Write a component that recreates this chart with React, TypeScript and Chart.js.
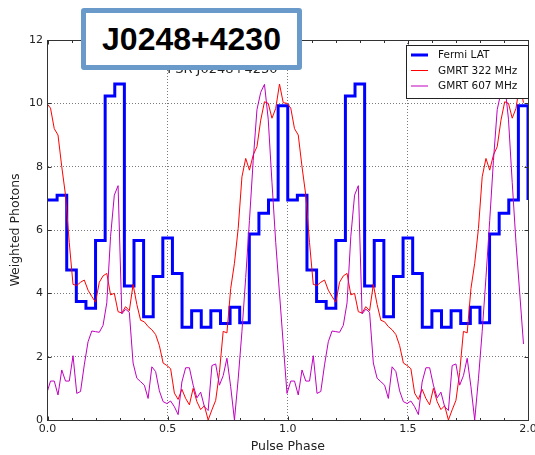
import React, { useEffect, useRef } from 'react';
import { Chart, registerables } from 'chart.js';

Chart.register(...registerables);
Chart.defaults.font.family = '"DejaVu Sans", sans-serif';
Chart.defaults.color = '#222';

// ---------------- data ----------------
const FERMI_BINS_PER_CYCLE = 25;
const RADIO_BINS_PER_CYCLE = 64;
const RADIO_BIN_SHIFT = 0.8; // radio profile phase alignment, in bins
const RADIO_PHASE_END = 1.99; // last radio bin plotted
const FERMI_CYCLES = [0, 1];
const RADIO_CYCLES = [-1, 0, 1];

const fermiLat = [
  6.95, 7.1, 4.74, 3.74, 3.53, 5.67, 10.23, 10.61, 4.23, 5.67, 3.26, 4.53, 5.75,
  4.63, 2.93, 3.45, 2.93, 3.45, 3.05, 3.56, 3.07, 5.87, 6.53, 6.95, 9.92,
];

const gmrt322 = [
  9.85, 9.2, 9.0, 8.0, 7.1, 5.6, 4.28, 4.25, 4.35, 4.42, 4.1, 3.9, 3.72, 4.35,
  4.55, 4.63, 3.95, 4.0, 3.42, 3.38, 3.58, 3.45, 4.28, 3.65, 3.15, 3.1, 2.95,
  2.85, 2.7, 2.35, 1.8, 1.72, 1.62, 0.85, 0.65, 0.97, 0.68, 0.48, 1.0, 0.58,
  0.33, 0.45, 0.0, 0.32, 0.62, 1.5, 2.8, 2.75, 4.15, 4.95, 6.05, 7.68, 8.26,
  7.89, 8.37, 8.63, 9.47, 10.05, 10.0, 9.53, 9.84, 10.61, 10.02, 10.0,
];

const gmrt607 = [
  1.23, 1.23, 0.79, 1.58, 1.23, 1.23, 2.03, 0.84, 0.9, 1.74, 2.47, 2.81, 2.79,
  2.77, 2.99, 3.7, 5.8, 7.1, 7.4, 3.35, 3.5, 3.4, 1.8, 1.32, 1.21, 1.1, 0.68,
  1.68, 1.53, 0.92, 0.58, 0.52, 0.6, 0.42, 0.17, 1.2, 1.65, 1.65, 1.1, 0.7,
  0.88, 0.42, 0.3, 1.72, 1.77, 1.1, 1.4, 1.95, 1.05, 0.0, 1.3, 2.8, 4.5, 6.3,
  8.2, 9.8, 10.35, 10.6, 9.5, 7.5, 5.6, 4.0, 2.4, 0.84,
];

const xTickValues = [0, 0.5, 1, 1.5, 2];
const xTickLabels = ['0.0', '0.5', '1.0', '1.5', '2.0'];
const xMinorStep = 0.1;
const yTickValues = [0, 2, 4, 6, 8, 10, 12];
const yTickLabels = ['0', '2', '4', '6', '8', '10', '12'];

const seriesNames = ['Fermi LAT', 'GMRT 322 MHz', 'GMRT 607 MHz'];
const seriesColors = ['#0000ff', '#ff0000', '#bf00bf'];
const seriesWidths = [3, 1, 1];

const xTitle = 'Pulse Phase';
const yTitle = 'Weighted Photons';
const plotTitle = 'PSR J0248+4230';
const badgeText = 'J0248+4230';

// ---------------- build points ----------------
function fermiPoints() {
  const pts: { x: number; y: number }[] = [];
  FERMI_CYCLES.forEach((c) => {
    fermiLat.forEach((v, k) => pts.push({ x: c + k / FERMI_BINS_PER_CYCLE, y: v }));
  });
  // close the last bin at the right edge
  pts.push({ x: FERMI_CYCLES.length, y: fermiLat[0] });
  return pts;
}

function radioPoints(arr: number[]) {
  const pts: { x: number; y: number }[] = [];
  RADIO_CYCLES.forEach((c) => {
    arr.forEach((v, i) => {
      const x = c + (i + RADIO_BIN_SHIFT) / RADIO_BINS_PER_CYCLE;
      if (x <= RADIO_PHASE_END) pts.push({ x, y: v });
    });
  });
  return pts;
}

// ---------------- overlay plugin (frame, ticks, title, legend) ----------------
const overlayPlugin = {
  id: 'overlay',
  afterDraw(chart: any) {
    const { ctx, chartArea: a, scales } = chart;
    const xs = scales.x;
    const ys = scales.y;
    const L = Math.floor(a.left) + 0.5;
    const R = Math.floor(a.right) + 0.5;
    const T = Math.floor(a.top) + 0.5;
    const B = Math.floor(a.bottom) + 0.5;
    ctx.save();

    // title (mostly hidden under the badge)
    ctx.fillStyle = '#222';
    ctx.font = '13px "DejaVu Sans", sans-serif';
    ctx.textAlign = 'center';
    ctx.textBaseline = 'alphabetic';
    ctx.fillText(plotTitle, a.left + a.width * 0.364, a.top + 33);

    // frame
    ctx.strokeStyle = '#333';
    ctx.lineWidth = 1;
    ctx.strokeRect(L, T, R - L, B - T);

    // inward ticks
    ctx.beginPath();
    const nMinor = Math.round((xs.max - xs.min) / xMinorStep);
    for (let k = 0; k <= nMinor; k++) {
      const v = xs.min + k * xMinorStep;
      const isMajor = xTickValues.some((t) => Math.abs(t - v) < 1e-9);
      const len = isMajor ? 4 : 2.5;
      const px = Math.round(xs.getPixelForValue(v)) + 0.5;
      ctx.moveTo(px, B);
      ctx.lineTo(px, B - len);
      ctx.moveTo(px, T);
      ctx.lineTo(px, T + len);
    }
    yTickValues.forEach((v) => {
      const py = Math.round(ys.getPixelForValue(v)) + 0.5;
      ctx.moveTo(L, py);
      ctx.lineTo(L + 4, py);
      ctx.moveTo(R, py);
      ctx.lineTo(R - 4, py);
    });
    ctx.stroke();

    // legend
    const lw = 122;
    const lh = 53;
    const lx = Math.floor(a.right) - lw;
    const ly = Math.floor(a.top) + 5;
    ctx.fillStyle = '#ffffff';
    ctx.fillRect(lx, ly, lw, lh);
    ctx.strokeStyle = '#222';
    ctx.lineWidth = 1;
    ctx.strokeRect(lx + 0.5, ly + 0.5, lw, lh);
    ctx.font = '10.5px "DejaVu Sans", sans-serif';
    ctx.textAlign = 'left';
    ctx.textBaseline = 'middle';
    seriesNames.forEach((name, r) => {
      const cy = ly + 10 + r * 15.5;
      ctx.beginPath();
      ctx.strokeStyle = seriesColors[r];
      ctx.lineWidth = seriesWidths[r];
      ctx.moveTo(lx + 5, cy);
      ctx.lineTo(lx + 22, cy);
      ctx.stroke();
      ctx.fillStyle = '#111';
      ctx.fillText(name, lx + 32, cy + 0.5);
    });
    ctx.restore();
  },
};

export default function App() {
  const canvasRef = useRef<HTMLCanvasElement | null>(null);

  useEffect(() => {
    const canvas = canvasRef.current;
    if (!canvas) return;
    const gridColorX = (c: any) =>
      c.tick && (c.tick.value === xTickValues[0] || c.tick.value === xTickValues[xTickValues.length - 1])
        ? 'rgba(0,0,0,0)'
        : '#7a7a7a';
    const gridColorY = (c: any) =>
      c.tick && (c.tick.value === yTickValues[0] || c.tick.value === yTickValues[yTickValues.length - 1])
        ? 'rgba(0,0,0,0)'
        : '#7a7a7a';

    const chart = new Chart(canvas, {
      type: 'line',
      data: {
        datasets: [
          {
            label: seriesNames[0],
            data: fermiPoints(),
            borderColor: seriesColors[0],
            borderWidth: seriesWidths[0],
            stepped: 'before',
            pointRadius: 0,
            fill: false,
            borderJoinStyle: 'miter',
            order: 3,
          },
          {
            label: seriesNames[1],
            data: radioPoints(gmrt322),
            borderColor: seriesColors[1],
            borderWidth: seriesWidths[1],
            pointRadius: 0,
            fill: false,
            tension: 0,
            order: 2,
          },
          {
            label: seriesNames[2],
            data: radioPoints(gmrt607),
            borderColor: seriesColors[2],
            borderWidth: seriesWidths[2],
            pointRadius: 0,
            fill: false,
            tension: 0,
            order: 1,
          },
        ],
      },
      options: {
        responsive: false,
        animation: false,
        devicePixelRatio: 1,
        events: [],
        layout: { padding: { left: 0, top: 40, right: 7, bottom: 0 } },
        plugins: {
          legend: { display: false },
          tooltip: { enabled: false },
          title: { display: false },
        },
        scales: {
          x: {
            type: 'linear',
            min: xTickValues[0],
            max: xTickValues[xTickValues.length - 1],
            afterFit: (s: any) => {
              s.height = 35;
              s.paddingLeft = 0;
              s.paddingRight = 0;
            },
            afterBuildTicks: (s: any) => {
              s.ticks = xTickValues.map((v) => ({ value: v }));
            },
            ticks: {
              callback: (_v: any, i: number) => xTickLabels[i],
              padding: 3,
              color: '#222',
              font: { size: 11 },
              autoSkip: false,
              maxRotation: 0,
            },
            grid: { color: gridColorX, drawTicks: false, lineWidth: 1 },
            border: { display: false, dash: [1, 2] },
            title: {
              display: true,
              text: xTitle,
              color: '#222',
              font: { size: 12.5 },
              padding: { top: 0, bottom: 0.5 },
            },
          },
          y: {
            type: 'linear',
            min: yTickValues[0],
            max: yTickValues[yTickValues.length - 1],
            afterFit: (s: any) => {
              s.width = 47.5;
              s.paddingTop = 0;
              s.paddingBottom = 0;
            },
            afterBuildTicks: (s: any) => {
              s.ticks = yTickValues.map((v) => ({ value: v }));
            },
            ticks: {
              callback: (_v: any, i: number) => yTickLabels[i],
              padding: 4.5,
              color: '#222',
              font: { size: 11 },
              autoSkip: false,
            },
            grid: { color: gridColorY, drawTicks: false, lineWidth: 1 },
            border: { display: false, dash: [1, 2] },
            title: {
              display: true,
              text: yTitle,
              color: '#222',
              font: { size: 12.5 },
              padding: { top: 8.5, bottom: 0 },
            },
          },
        },
      },
      plugins: [overlayPlugin],
    } as any);

    return () => {
      chart.destroy();
    };
  }, []);

  return (
    <div
      style={{
        position: 'fixed',
        left: 0,
        top: 0,
        width: 535,
        height: 455,
        background: '#ffffff',
      }}
    >
      <canvas ref={canvasRef} width={535} height={455} style={{ width: 535, height: 455, display: 'block' }} />
      <div
        style={{
          position: 'absolute',
          left: 81,
          top: 8,
          width: 221,
          height: 62,
          boxSizing: 'border-box',
          border: '5px solid #6a9aca',
          borderRadius: 3,
          background: '#ffffff',
          display: 'flex',
          alignItems: 'center',
          justifyContent: 'center',
          fontFamily: '"Liberation Sans", Arial, sans-serif',
          fontWeight: 'bold',
          fontSize: 32,
          color: '#000',
          lineHeight: 1,
        }}
      >
        {badgeText}
      </div>
    </div>
  );
}
